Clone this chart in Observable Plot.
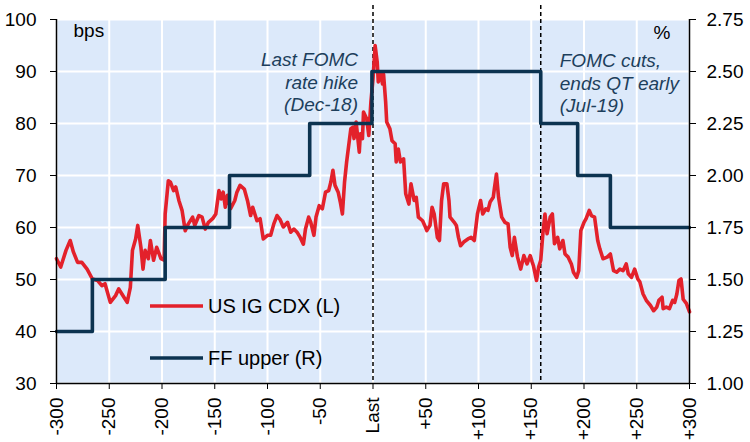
<!DOCTYPE html>
<html><head><meta charset="utf-8">
<script src="https://cdn.jsdelivr.net/npm/d3@7"></script>
<script src="https://cdn.jsdelivr.net/npm/@observablehq/plot@0.6"></script>
<style>
body{margin:0;background:#fff;}
#chart{width:750px;height:442px;}
svg{font-family:"Liberation Sans", Arial, sans-serif;}
</style></head><body><div id="chart"></div>
<script>
// US IG CDX spread (bps), days relative to last FOMC hike
const cdxDays = [-300,-296,-291,-287,-284,-280,-276,-271,-266,-261,-257,-254,-249,-244,-241,-238,-233,-230,-228,-225,-223,-220,-218,-216,-213,-211,-208,-205,-201,-198,-197,-194,-192,-189,-187,-184,-181,-178,-175,-171,-169,-165,-162,-159,-156,-152,-149,-146,-144,-142,-140,-138,-135,-131,-129,-126,-122,-119,-116,-114,-110,-107,-104,-100,-97,-94,-91,-88,-85,-81,-78,-75,-72,-69,-66,-64,-61,-59,-56,-54,-51,-48,-45,-42,-40,-38,-36,-33,-31,-29,-27,-25,-23,-21,-19,-18,-16,-13,-12,-10,-9,-6,-4,-3,-2,0,2,4,5,7,9,10,12,13,16,18,21,22,24,26,29,31,34,36,39,41,43,47,49,51,54,56,58,61,63,65,67,70,72,73,77,79,81,83,86,90,93,96,99,102,104,107,109,111,114,115,117,119,122,125,128,130,132,134,137,140,143,146,149,151,152,155,157,159,161,163,165,168,170,172,175,177,180,182,185,188,190,193,195,197,200,202,205,207,210,213,215,218,222,225,228,231,234,237,240,242,245,248,251,253,256,259,263,266,269,271,274,275,278,281,284,286,288,290,292,294,297,300];
const cdxBps = [54.0,52.4,55.6,57.5,55.3,53.3,53.3,52.0,50.1,49.8,48.8,49.2,45.6,46.9,48.2,47.2,45.6,48.5,55.6,57.8,60.4,56.2,52.0,55.6,54.0,57.5,53.7,56.2,54.0,53.7,62.6,69.0,68.7,67.1,67.8,65.2,63.3,59.4,60.7,62.0,60.4,62.3,62.0,59.7,61.0,61.7,62.6,67.1,65.5,66.8,63.9,66.2,63.6,65.2,66.8,68.1,67.4,65.2,62.3,63.9,61.3,61.7,57.8,58.5,58.5,60.7,62.3,61.5,60.1,61.0,59.1,59.7,59.1,58.1,56.8,59.7,62.0,61.0,58.5,62.0,64.2,63.6,66.8,67.1,68.7,71.0,68.1,66.8,64.9,62.6,68.7,72.6,75.8,79.0,79.3,77.1,80.3,74.5,78.0,77.1,82.2,80.9,77.7,80.9,84.1,88.6,95.0,91.8,88.0,89.9,87.6,89.5,84.1,80.3,79.0,76.7,76.1,72.6,75.1,72.6,73.2,66.5,64.5,68.4,65.2,65.8,62.0,61.3,60.4,59.4,60.4,63.9,62.6,58.1,57.5,65.2,68.4,68.4,65.2,62.0,61.0,60.4,58.1,56.5,57.2,57.8,58.1,57.5,62.6,65.2,62.6,63.6,63.3,64.9,65.8,67.4,70.3,65.8,62.0,61.0,60.7,56.2,54.6,58.1,54.3,52.0,54.6,53.0,54.6,53.3,52.7,49.8,52.4,53.7,58.8,62.6,58.8,62.0,62.6,56.9,58.1,55.9,57.5,54.9,54.3,53.0,51.4,50.4,51.7,59.4,61.0,61.7,63.3,62.3,62.0,57.5,55.9,54.0,54.3,54.9,51.7,51.4,52.0,51.7,53.0,51.1,50.4,52.0,50.1,49.5,47.2,46.0,45.0,44.0,44.7,46.0,46.6,44.4,44.7,44.4,46.0,45.6,47.2,49.8,50.1,46.2,45.4,43.8];
// Fed funds upper bound (%), step changes
const ffDays = [-300,-266,-197,-136,-60,-1,159,194,225,300];
const ffUpper = [1.25,1.50,1.75,2.00,2.25,2.50,2.25,2.00,1.75,1.75];
// Axes
const xTicks = [-300,-250,-200,-150,-100,-50,0,50,100,150,200,250,300];
const xTickLabels = ["-300","-250","-200","-150","-100","-50","Last","+50","+100","+150","+200","+250","+300"];
const leftTicks = [30,40,50,60,70,80,90,100];
const rightTicks = [1.00,1.25,1.50,1.75,2.00,2.25,2.50,2.75];
const eventDays = [0,159];
const annotations = ["Last FOMC\nrate hike\n(Dec-18)","FOMC cuts,\nends QT early\n(Jul-19)"];
const seriesNames = ["US IG CDX (L)","FF upper (R)"];
const unitLabels = ["bps","%"];

const RED = "#e3212b", NAVY = "#0c3350", BG = "#dce9fa", ANNO = "#1d3f5c";
const toLeft = r => 30 + (r - 1) * 40;
const toRight = l => (l - 30) / 40 + 1;

const cdx = cdxDays.map((d, i) => ({day: d, bps: cdxBps[i]}));
const ff = ffDays.map((d, i) => ({day: d, rate: ffUpper[i]}));

const plot = Plot.plot({
  width: 750, height: 442,
  marginLeft: 56, marginRight: 61, marginTop: 19, marginBottom: 59,
  style: {fontFamily: "'Liberation Sans', Arial, sans-serif", fontSize: "19px", color: "#000", background: "transparent"},
  x: {domain: [-300, 300]},
  y: {domain: [30, 100]},
  marks: [
    Plot.frame({fill: BG, stroke: null}),
    Plot.gridX(xTicks, {stroke: "#fff", strokeOpacity: 1, strokeWidth: 2}),
    Plot.gridY(leftTicks, {stroke: "#fff", strokeOpacity: 1, strokeWidth: 2}),
    Plot.ruleX(eventDays, {stroke: "#000", strokeWidth: 1.5, strokeDasharray: "4,3", insetTop: -14}),
    Plot.line(cdx, {x: "day", y: "bps", stroke: RED, strokeWidth: 3.6, strokeLinejoin: "round"}),
    Plot.line(ff, {x: "day", y: d => toLeft(d.rate), curve: "step-after", stroke: NAVY, strokeWidth: 3.6}),
    Plot.axisY(leftTicks, {anchor: "left", tickSize: 6, tickPadding: 14, label: null, fontSize: 19}),
    Plot.axisY(rightTicks.map(toLeft), {anchor: "right", tickSize: 6, tickPadding: 11, label: null, fontSize: 19, tickFormat: d => toRight(d).toFixed(2)}),
    Plot.axisX(xTicks, {anchor: "bottom", tickSize: 6, tickPadding: 8, tickRotate: -90, label: null, fontSize: 19, tickFormat: d => xTickLabels[xTicks.indexOf(d)]}),
    Plot.ruleX([-300, 300], {stroke: "#000", strokeWidth: 1.5}),
    Plot.ruleY([30], {stroke: "#000", strokeWidth: 1.5}),
    Plot.text([annotations[0]], {x: eventDays[0], frameAnchor: "top", textAnchor: "end", lineAnchor: "top", dx: -15, dy: 31, fontStyle: "italic", fill: ANNO, lineHeight: 1.18, fontSize: 19}),
    Plot.text([annotations[1]], {x: eventDays[1], frameAnchor: "top", textAnchor: "start", lineAnchor: "top", dx: 19, dy: 32, fontStyle: "italic", fill: ANNO, lineHeight: 1.18, fontSize: 19}),
    Plot.text([unitLabels[0]], {frameAnchor: "top-left", textAnchor: "start", lineAnchor: "top", dx: 17, dy: 4, fill: "#000", fontSize: 19}),
    Plot.text([unitLabels[1]], {frameAnchor: "top-right", textAnchor: "end", lineAnchor: "top", dx: -19, dy: 6, fill: "#000", fontSize: 19})
  ]
});

// legend inside the plot area
const svg = d3.select(plot);
const lg = svg.append("g").attr("font-size", 20).attr("text-anchor", "start").attr("font-family", "'Liberation Sans', Arial, sans-serif");
[[RED, seriesNames[0], 306, 3.6], [NAVY, seriesNames[1], 358, 3.6]].forEach(([c, t, y, w]) => {
  lg.append("line").attr("x1", 150).attr("x2", 203).attr("y1", y).attr("y2", y).attr("stroke", c).attr("stroke-width", w);
  lg.append("text").attr("x", 208).attr("y", y).attr("dy", "0.35em").attr("text-anchor", "start").attr("fill", "#000").text(t);
});

document.getElementById("chart").appendChild(plot);
</script></body></html>
